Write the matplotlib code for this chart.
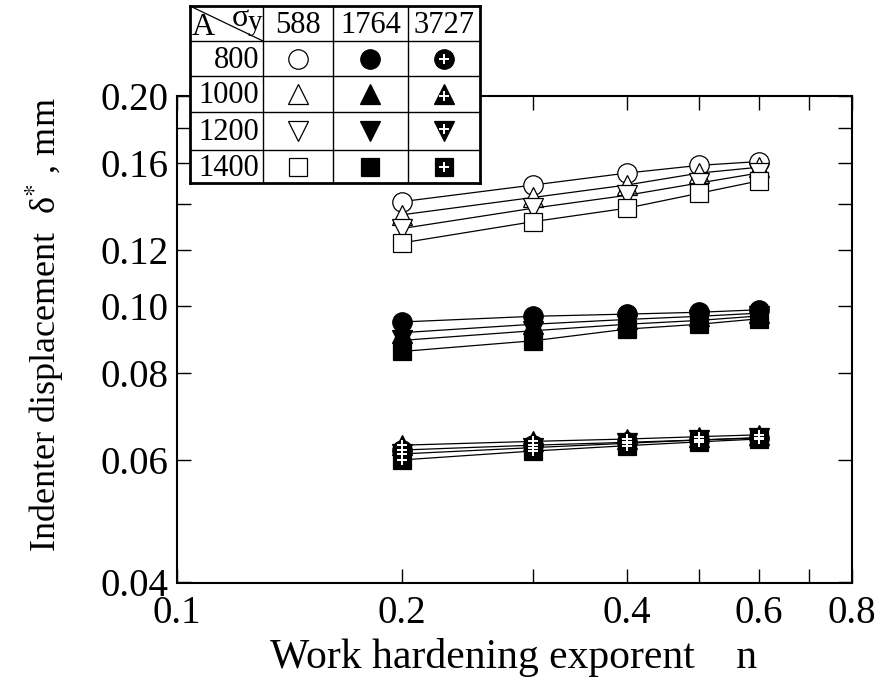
import numpy as np
import matplotlib
matplotlib.use('Agg')
import matplotlib.pyplot as plt
from matplotlib.ticker import FixedLocator, FixedFormatter, NullLocator

plt.rcParams['font.family'] = ['Liberation Serif', 'DejaVu Serif']
plt.rcParams['mathtext.fontset'] = 'stix'

# ---------------- data ----------------
n_values = [0.2, 0.3, 0.4, 0.5, 0.6]
A_values = [800, 1000, 1200, 1400]
sigma_y_values = [588, 1764, 3727]

# rows: A = 800, 1000, 1200, 1400 ; columns: n = 0.2 .. 0.6
delta_588 = [
    [0.141, 0.149, 0.155, 0.159, 0.161],
    [0.135, 0.143, 0.149, 0.155, 0.158],
    [0.129, 0.138, 0.144, 0.150, 0.155],
    [0.123, 0.132, 0.138, 0.145, 0.151],
]
delta_1764 = [
    [0.0947, 0.0965, 0.0972, 0.0978, 0.0986],
    [0.0914, 0.0940, 0.0955, 0.0965, 0.0975],
    [0.0891, 0.0920, 0.0940, 0.0952, 0.0966],
    [0.0859, 0.0890, 0.0925, 0.0940, 0.0957],
]
delta_3727 = [
    [0.0620, 0.0630, 0.0636, 0.0641, 0.0645],
    [0.0630, 0.0638, 0.0643, 0.0648, 0.0652],
    [0.0612, 0.0625, 0.0634, 0.0641, 0.0646],
    [0.0600, 0.0618, 0.0629, 0.0637, 0.0643],
]

x_tick_values = [0.1, 0.2, 0.3, 0.4, 0.5, 0.6, 0.7, 0.8]
x_tick_labels = ['0.1', '0.2', '', '0.4', '', '0.6', '', '0.8']
y_tick_values = [0.04, 0.06, 0.08, 0.10, 0.12, 0.14, 0.16, 0.18, 0.20]
y_tick_labels = ['0.04', '0.06', '0.08', '0.10', '0.12', '', '0.16', '', '0.20']

marker_shapes = ['o', '^', 'v', 's']
marker_sizes = [14, 14, 14, 12.5]

# ---------------- figure ----------------
W, H = 883, 700
fig = plt.figure(figsize=(W / 100, H / 100), dpi=100)
ax = fig.add_axes([176.7 / W, 1 - 582.5 / H, (852 - 176.7) / W, (582.5 - 96) / H])
ax.set_xscale('log')
ax.set_yscale('log')
ax.set_xlim(0.1, 0.8)
ax.set_ylim(0.04, 0.20)

groups = [delta_588, delta_1764, delta_3727]
styles = ['open', 'filled', 'plus']
for grp, sty in zip(groups, styles):
    for i, A in enumerate(A_values):
        face = 'white' if sty == 'open' else 'black'
        ax.plot(n_values, grp[i], '-', color='black', lw=0.9,
                marker=marker_shapes[i], ms=marker_sizes[i],
                mfc=face, mec='black', mew=0.9, zorder=3)
        if sty == 'plus':
            ax.plot(n_values, grp[i], linestyle='none', marker='+', ms=6.5,
                    mec='white', mew=1.4, zorder=4)

ax.xaxis.set_major_locator(FixedLocator(x_tick_values))
ax.xaxis.set_major_formatter(FixedFormatter(x_tick_labels))
ax.xaxis.set_minor_locator(NullLocator())
ax.yaxis.set_major_locator(FixedLocator(y_tick_values))
ax.yaxis.set_major_formatter(FixedFormatter(y_tick_labels))
ax.yaxis.set_minor_locator(NullLocator())
ax.tick_params(which='both', direction='in', top=True, right=True,
               length=10, width=1.0, labelsize=28)
ax.tick_params(axis='x', pad=9)
ax.tick_params(axis='y', pad=6)
for sp in ax.spines.values():
    sp.set_linewidth(1.5)

ax.set_xlabel('Work hardening exporent    n', fontsize=30)
ax.xaxis.set_label_coords((514 - 176.7) / 675.3, (582.5 - 638) / 486.5)
ax.set_ylabel('Indenter displacement  δ$^{*}$ , mm', fontsize=26)
ax.yaxis.set_label_coords((66 - 176.7) / 675.3, 0.53)

# ---------------- symbol table ----------------
col_edges = [190, 263, 333, 407.7, 480]
row_edges = [6, 41, 76, 112, 150, 183]
tab = fig.add_axes([col_edges[0] / W, 1 - row_edges[-1] / H,
                    (col_edges[-1] - col_edges[0]) / W,
                    (row_edges[-1] - row_edges[0]) / H])
tab.set_xlim(col_edges[0], col_edges[-1])
tab.set_ylim(row_edges[-1], row_edges[0])
tab.set_facecolor('white')
tab.set_xticks([])
tab.set_yticks([])
for sp in tab.spines.values():
    sp.set_linewidth(2.0)
for x in col_edges[1:-1]:
    tab.axvline(x, color='black', lw=1.0)
for y in row_edges[1:-1]:
    tab.axhline(y, color='black', lw=1.0)
tab.plot([col_edges[0], col_edges[1]], [row_edges[0], row_edges[1]], color='black', lw=0.9)
tab.text(col_edges[0] + 2, row_edges[1] + 1, 'A', fontsize=23, ha='left', va='bottom')
tab.text(col_edges[1] - 14, row_edges[0] - 2, 'σ', fontsize=23, ha='right', va='top')
tab.text(col_edges[1] - 1, row_edges[0] + 4, 'y', fontsize=21, ha='right', va='top')

for j, s in enumerate(sigma_y_values):
    cx = 0.5 * (col_edges[j + 1] + col_edges[j + 2])
    cy = 0.5 * (row_edges[0] + row_edges[1])
    tab.text(cx, cy + 1.5, str(s), fontsize=22, ha='center', va='center')

for i, A in enumerate(A_values):
    cy = 0.5 * (row_edges[i + 1] + row_edges[i + 2])
    tab.text(col_edges[1] - 4, cy + 1.5, str(A), fontsize=22, ha='right', va='center')
    for j, sty in enumerate(styles):
        cx = 0.5 * (col_edges[j + 1] + col_edges[j + 2])
        face = 'white' if sty == 'open' else 'black'
        tab.plot([cx], [cy], linestyle='none', marker=marker_shapes[i],
                 ms=marker_sizes[i], mfc=face, mec='black', mew=0.9)
        if sty == 'plus':
            dy = 2 if marker_shapes[i] == '^' else (-2 if marker_shapes[i] == 'v' else 0)
            tab.plot([cx], [cy + dy], linestyle='none', marker='+', ms=6.5,
                     mec='white', mew=1.4)

fig.savefig('out.png', dpi=100)
